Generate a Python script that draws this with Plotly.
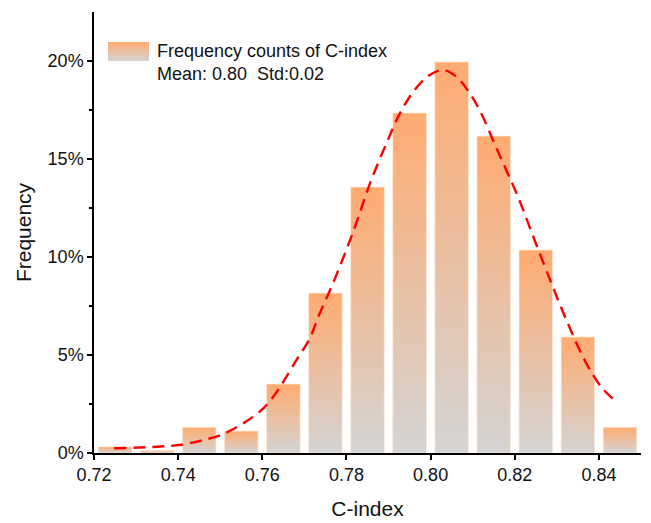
import plotly.graph_objects as go

# ---- data ----
bin_centers = [0.725, 0.735, 0.745, 0.755, 0.765, 0.775, 0.785, 0.795, 0.805, 0.815, 0.825, 0.835, 0.845]
freq = [0.0032, 0.0012, 0.0131, 0.0112, 0.0352, 0.0816, 0.1357, 0.1735, 0.1995, 0.1617, 0.1036, 0.0592, 0.0131]

curve_x = [0.7248, 0.7350, 0.7407, 0.7460, 0.7507, 0.7554, 0.7594, 0.7626, 0.7650, 0.7681, 0.7713,
           0.7733, 0.7768, 0.7816, 0.7856, 0.7895, 0.7927, 0.7962, 0.7998, 0.8030, 0.8061, 0.8093,
           0.8121, 0.8148, 0.8168, 0.8208, 0.8247, 0.8287, 0.8326, 0.8366, 0.8405, 0.8441]
curve_y = [0.0024, 0.0032, 0.0042, 0.0066, 0.0097, 0.0151, 0.0211, 0.0287, 0.0364, 0.0474, 0.0585,
           0.0695, 0.0866, 0.1129, 0.1376, 0.1580, 0.1733, 0.1852, 0.1929, 0.1954, 0.1920, 0.1835,
           0.1730, 0.1597, 0.1500, 0.1305, 0.1087, 0.0866, 0.0662, 0.0474, 0.0338, 0.0262]

legend_line1 = "Frequency counts of C-index"
legend_line2 = "Mean: 0.80\u00a0 Std:0.02"
x_ticks = [0.72, 0.74, 0.76, 0.78, 0.80, 0.82, 0.84]
y_ticks = [0, 0.05, 0.10, 0.15, 0.20]

# ---- style ----
bar_width = 0.008
grad = [[0, "#d4d4d4"], [1, "#ffab70"]]
FONT = "Liberation Sans, Arial, sans-serif"
W, H = 651, 523
ML, MR, MT, MB = 94, 10, 12, 70
PW, PH = W - ML - MR, H - MT - MB

fig = go.Figure()
for c, h in zip(bin_centers, freq):
    x0, x1 = c - bar_width / 2, c + bar_width / 2
    fig.add_trace(go.Scatter(
        x=[x0, x1, x1, x0, x0], y=[0, 0, h, h, 0],
        mode="lines", fill="toself",
        fillgradient=dict(type="vertical", colorscale=grad, start=0, stop=h),
        line=dict(color="rgba(255,235,220,0.9)", width=0.8),
        showlegend=False, hoverinfo="skip",
    ))

fig.add_trace(go.Scatter(
    x=curve_x, y=curve_y, mode="lines",
    line=dict(color="#ff0000", width=2.4, dash="12px,7px", shape="spline"),
    showlegend=False, hoverinfo="skip",
))

# legend key (gradient swatch) drawn on an overlay axis measured in plot pixels
key_x = [14, 55, 55, 14, 14]
key_y = [PH - 61 + MT, PH - 61 + MT, PH - 42 + MT, PH - 42 + MT, PH - 61 + MT]
fig.add_trace(go.Scatter(
    x=key_x, y=key_y, xaxis="x2", yaxis="y2", mode="lines", fill="toself",
    fillgradient=dict(type="vertical", colorscale=grad),
    line=dict(width=0, color="rgba(0,0,0,0)"), showlegend=False, hoverinfo="skip",
))

axis_common = dict(showline=True, linecolor="black", linewidth=1.5, ticks="outside", ticklen=5,
                   tickwidth=1.5, tickcolor="black", showgrid=False, zeroline=False,
                   tickfont=dict(size=18, color="#111", family=FONT), mirror=False,
                   automargin=False)

fig.update_layout(
    width=W, height=H,
    margin=dict(l=ML, r=MR, t=MT, b=MB),
    plot_bgcolor="white", paper_bgcolor="white",
    font=dict(family=FONT, color="#111"),
    xaxis=dict(range=[0.72, 0.85], tickvals=x_ticks, tickformat=".2f",
               title=dict(text="C-index", font=dict(size=21, family=FONT), standoff=17),
               **axis_common),
    yaxis=dict(range=[0, 0.225], tickvals=y_ticks, tickformat=".0%",
               title=dict(text="Frequency", font=dict(size=21, family=FONT), standoff=10),
               minor=dict(tickvals=[0.025, 0.075, 0.125, 0.175], ticks="outside", ticklen=3,
                          tickcolor="black", tickwidth=1.5),
               **axis_common),
    xaxis2=dict(overlaying="x", range=[0, PW], visible=False, fixedrange=True),
    yaxis2=dict(overlaying="y", range=[0, PH], visible=False, fixedrange=True),
    showlegend=False,
    annotations=[dict(
        text=legend_line1 + "<br>" + legend_line2, xref="paper", yref="paper",
        x=(155 - ML) / PW, y=(H - MB - 62.9) / PH, xanchor="left", yanchor="middle",
        align="left", showarrow=False, font=dict(size=18, family=FONT, color="#111"),
    )],
)

fig.write_html("out.html")
